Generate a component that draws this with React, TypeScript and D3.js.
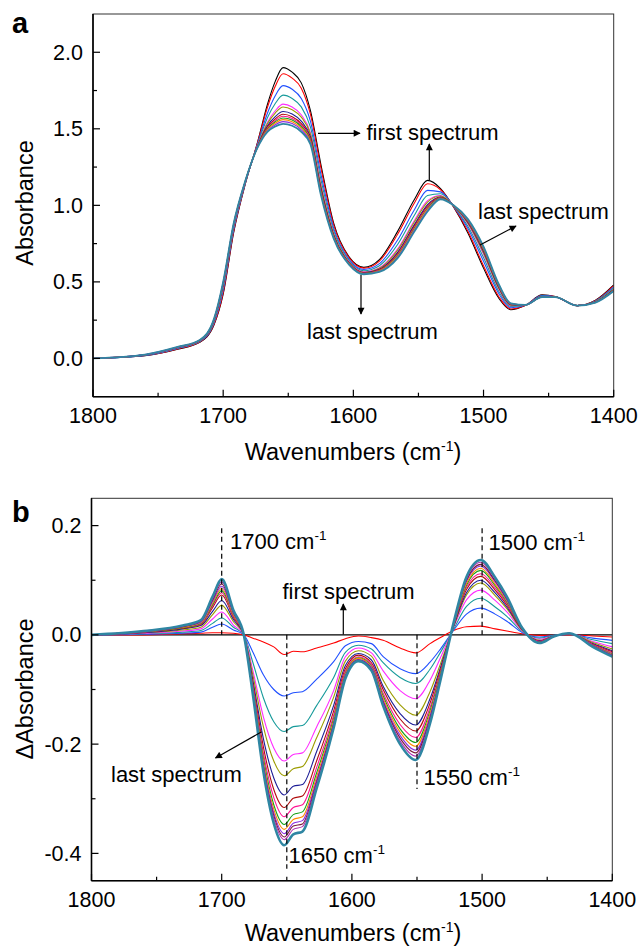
import React, { useEffect } from 'react';
import * as d3 from 'd3';

// ---------- Panel a data (absorbance) ----------
const wavenumbersA = [1800, 1760, 1735, 1718, 1707, 1700, 1692, 1683, 1674, 1666, 1660, 1654, 1647, 1640, 1633, 1625, 1615, 1603, 1592, 1580, 1566, 1553, 1543, 1533, 1523, 1512, 1500, 1488, 1479, 1468, 1455, 1445, 1428, 1414, 1400];

const absA01 = [0.000, 0.018, 0.060, 0.105, 0.220, 0.420, 0.820, 1.140, 1.400, 1.660, 1.810, 1.900, 1.870, 1.800, 1.620, 1.270, 0.880, 0.660, 0.595, 0.645, 0.830, 1.040, 1.163, 1.110, 0.990, 0.820, 0.590, 0.390, 0.318, 0.345, 0.415, 0.405, 0.345, 0.380, 0.480];
const absA02 = [0.000, 0.019, 0.062, 0.107, 0.224, 0.429, 0.827, 1.142, 1.397, 1.640, 1.778, 1.860, 1.831, 1.765, 1.596, 1.248, 0.869, 0.655, 0.590, 0.636, 0.811, 1.017, 1.141, 1.102, 0.991, 0.830, 0.605, 0.400, 0.323, 0.346, 0.413, 0.404, 0.345, 0.378, 0.476];
const absA03 = [0.000, 0.020, 0.065, 0.110, 0.233, 0.446, 0.839, 1.146, 1.390, 1.602, 1.716, 1.782, 1.758, 1.698, 1.550, 1.206, 0.848, 0.644, 0.581, 0.619, 0.774, 0.973, 1.098, 1.088, 0.993, 0.849, 0.635, 0.419, 0.331, 0.347, 0.410, 0.403, 0.345, 0.375, 0.467];
const absA04 = [0.000, 0.021, 0.067, 0.112, 0.240, 0.459, 0.849, 1.150, 1.385, 1.572, 1.665, 1.720, 1.698, 1.643, 1.512, 1.172, 0.831, 0.636, 0.573, 0.606, 0.744, 0.937, 1.064, 1.076, 0.995, 0.864, 0.659, 0.434, 0.339, 0.347, 0.408, 0.403, 0.345, 0.373, 0.460];
const absA05 = [0.000, 0.023, 0.070, 0.115, 0.246, 0.472, 0.859, 1.153, 1.381, 1.543, 1.618, 1.661, 1.642, 1.592, 1.477, 1.140, 0.815, 0.628, 0.566, 0.593, 0.716, 0.903, 1.031, 1.064, 0.997, 0.879, 0.681, 0.449, 0.345, 0.348, 0.405, 0.402, 0.345, 0.370, 0.454];
const absA06 = [0.000, 0.023, 0.071, 0.116, 0.248, 0.476, 0.862, 1.154, 1.379, 1.534, 1.603, 1.642, 1.625, 1.576, 1.466, 1.130, 0.810, 0.625, 0.563, 0.589, 0.707, 0.893, 1.021, 1.061, 0.997, 0.883, 0.688, 0.453, 0.347, 0.349, 0.405, 0.402, 0.345, 0.370, 0.452];
const absA07 = [0.000, 0.023, 0.072, 0.117, 0.251, 0.482, 0.867, 1.156, 1.377, 1.520, 1.580, 1.613, 1.597, 1.550, 1.448, 1.114, 0.802, 0.621, 0.560, 0.583, 0.693, 0.876, 1.005, 1.055, 0.998, 0.890, 0.699, 0.460, 0.351, 0.349, 0.403, 0.401, 0.345, 0.368, 0.449];
const absA08 = [0.000, 0.024, 0.072, 0.117, 0.253, 0.486, 0.870, 1.157, 1.375, 1.511, 1.565, 1.595, 1.579, 1.534, 1.437, 1.104, 0.797, 0.619, 0.558, 0.579, 0.685, 0.866, 0.995, 1.052, 0.998, 0.895, 0.706, 0.465, 0.353, 0.349, 0.403, 0.401, 0.345, 0.368, 0.447];
const absA09 = [0.000, 0.024, 0.073, 0.118, 0.255, 0.489, 0.872, 1.157, 1.374, 1.504, 1.555, 1.582, 1.567, 1.523, 1.430, 1.097, 0.793, 0.617, 0.556, 0.576, 0.679, 0.858, 0.987, 1.049, 0.999, 0.898, 0.711, 0.468, 0.354, 0.349, 0.402, 0.401, 0.345, 0.367, 0.445];
const absA10 = [0.000, 0.024, 0.073, 0.118, 0.256, 0.492, 0.874, 1.158, 1.373, 1.499, 1.546, 1.571, 1.557, 1.514, 1.423, 1.091, 0.790, 0.615, 0.555, 0.573, 0.673, 0.852, 0.981, 1.047, 0.999, 0.901, 0.715, 0.471, 0.356, 0.349, 0.402, 0.401, 0.345, 0.367, 0.444];
const absA11 = [0.000, 0.024, 0.074, 0.119, 0.257, 0.494, 0.876, 1.159, 1.372, 1.494, 1.537, 1.560, 1.546, 1.504, 1.416, 1.085, 0.787, 0.614, 0.553, 0.571, 0.668, 0.846, 0.975, 1.045, 0.999, 0.903, 0.720, 0.473, 0.357, 0.350, 0.401, 0.400, 0.345, 0.366, 0.443];
const absA12 = [0.000, 0.025, 0.074, 0.119, 0.258, 0.497, 0.878, 1.159, 1.371, 1.487, 1.527, 1.547, 1.534, 1.493, 1.409, 1.078, 0.784, 0.612, 0.552, 0.568, 0.662, 0.838, 0.968, 1.043, 1.000, 0.906, 0.724, 0.476, 0.358, 0.350, 0.401, 0.400, 0.345, 0.366, 0.442];
const absA13 = [0.000, 0.025, 0.075, 0.120, 0.260, 0.500, 0.880, 1.160, 1.370, 1.480, 1.515, 1.532, 1.520, 1.480, 1.400, 1.070, 0.780, 0.610, 0.550, 0.565, 0.655, 0.830, 0.960, 1.040, 1.000, 0.910, 0.730, 0.480, 0.360, 0.350, 0.400, 0.400, 0.345, 0.365, 0.440];

// ---------- Panel b data (difference absorbance) ----------
const wavenumbersB = [1800, 1760, 1730, 1716, 1707, 1700, 1691, 1683, 1676, 1668, 1660, 1652, 1645, 1638, 1627, 1614, 1605, 1595, 1585, 1576, 1563, 1551, 1540, 1532, 1522, 1512, 1501, 1490, 1481, 1469, 1456, 1445, 1433, 1415, 1400];

const dAbs01 = [0, 0, 0, 0, 0, 0, 0, 0, 0, 0, 0, 0, 0, 0, 0, 0, 0, 0, 0, 0, 0, 0, 0, 0, 0, 0, 0, 0, 0, 0, 0, 0, 0, 0, 0];
const dAbs02 = [0, 0.000, 0.002, 0.003, 0.004, 0.004, 0.003, 0.000, -0.006, -0.013, -0.022, -0.036, -0.030, -0.031, -0.024, -0.015, -0.007, -0.002, -0.005, -0.010, -0.024, -0.033, -0.016, -0.005, 0.008, 0.015, 0.016, 0.011, 0.007, 0.002, -0.001, -0.001, 0.000, -0.002, -0.004];
const dAbs03 = [0, 0.001, 0.003, 0.005, 0.014, 0.020, 0.009, 0, -0.032, -0.073, -0.100, -0.112, -0.106, -0.104, -0.081, -0.049, -0.020, -0.012, -0.016, -0.040, -0.062, -0.071, -0.050, -0.026, 0.008, 0.038, 0.049, 0.038, 0.025, 0.004, -0.004, -0.001, 0.001, -0.006, -0.010];
const dAbs04 = [0, 0.002, 0.005, 0.008, 0.021, 0.031, 0.014, 0, -0.051, -0.115, -0.159, -0.177, -0.168, -0.166, -0.129, -0.078, -0.032, -0.019, -0.026, -0.051, -0.078, -0.089, -0.063, -0.032, 0.010, 0.052, 0.067, 0.051, 0.034, 0.006, -0.006, -0.001, 0.001, -0.009, -0.016];
const dAbs05 = [0, 0.003, 0.007, 0.011, 0.029, 0.042, 0.018, 0, -0.066, -0.150, -0.207, -0.231, -0.219, -0.216, -0.168, -0.102, -0.040, -0.024, -0.033, -0.066, -0.102, -0.117, -0.083, -0.042, 0.013, 0.064, 0.082, 0.063, 0.042, 0.007, -0.008, -0.002, 0.002, -0.012, -0.022];
const dAbs06 = [0, 0.004, 0.009, 0.014, 0.037, 0.054, 0.024, 0, -0.074, -0.168, -0.231, -0.258, -0.245, -0.241, -0.188, -0.114, -0.048, -0.029, -0.039, -0.083, -0.128, -0.147, -0.104, -0.053, 0.014, 0.073, 0.095, 0.072, 0.048, 0.008, -0.010, -0.002, 0.002, -0.014, -0.026];
const dAbs07 = [0, 0.004, 0.011, 0.017, 0.043, 0.063, 0.028, 0, -0.084, -0.190, -0.262, -0.293, -0.277, -0.274, -0.213, -0.129, -0.056, -0.034, -0.046, -0.094, -0.144, -0.165, -0.117, -0.060, 0.015, 0.077, 0.100, 0.077, 0.051, 0.009, -0.011, -0.002, 0.002, -0.016, -0.029];
const dAbs08 = [0, 0.005, 0.012, 0.019, 0.050, 0.073, 0.032, 0, -0.090, -0.205, -0.283, -0.316, -0.299, -0.295, -0.230, -0.139, -0.062, -0.037, -0.051, -0.100, -0.154, -0.176, -0.125, -0.064, 0.016, 0.083, 0.107, 0.082, 0.055, 0.009, -0.012, -0.002, 0.002, -0.017, -0.031];
const dAbs09 = [0, 0.005, 0.013, 0.020, 0.053, 0.077, 0.034, 0, -0.095, -0.216, -0.298, -0.333, -0.316, -0.311, -0.242, -0.147, -0.066, -0.040, -0.054, -0.107, -0.164, -0.188, -0.133, -0.068, 0.017, 0.087, 0.112, 0.086, 0.057, 0.010, -0.012, -0.002, 0.002, -0.018, -0.033];
const dAbs10 = [0, 0.006, 0.013, 0.021, 0.055, 0.081, 0.036, 0, -0.099, -0.225, -0.311, -0.347, -0.329, -0.324, -0.252, -0.153, -0.070, -0.042, -0.057, -0.112, -0.172, -0.197, -0.139, -0.071, 0.018, 0.091, 0.118, 0.090, 0.060, 0.010, -0.013, -0.003, 0.003, -0.019, -0.035];
const dAbs11 = [0, 0.006, 0.014, 0.022, 0.058, 0.085, 0.037, 0, -0.102, -0.231, -0.319, -0.356, -0.338, -0.333, -0.259, -0.157, -0.072, -0.043, -0.059, -0.116, -0.178, -0.204, -0.144, -0.074, 0.019, 0.094, 0.122, 0.093, 0.062, 0.011, -0.014, -0.003, 0.003, -0.020, -0.036];
const dAbs12 = [0, 0.006, 0.015, 0.023, 0.061, 0.089, 0.039, 0, -0.104, -0.236, -0.326, -0.364, -0.345, -0.340, -0.265, -0.161, -0.074, -0.045, -0.060, -0.120, -0.184, -0.211, -0.149, -0.076, 0.019, 0.098, 0.126, 0.097, 0.064, 0.011, -0.014, -0.003, 0.003, -0.020, -0.037];
const dAbs13 = [0, 0.006, 0.015, 0.025, 0.064, 0.093, 0.041, 0, -0.106, -0.240, -0.331, -0.370, -0.350, -0.346, -0.269, -0.163, -0.076, -0.046, -0.062, -0.123, -0.189, -0.216, -0.153, -0.078, 0.020, 0.100, 0.129, 0.099, 0.066, 0.011, -0.014, -0.003, 0.003, -0.021, -0.038];
const dAbs14 = [0, 0.007, 0.016, 0.026, 0.067, 0.097, 0.043, 0, -0.107, -0.244, -0.336, -0.375, -0.356, -0.351, -0.273, -0.166, -0.078, -0.047, -0.063, -0.126, -0.194, -0.222, -0.157, -0.081, 0.020, 0.103, 0.133, 0.102, 0.068, 0.012, -0.015, -0.003, 0.003, -0.021, -0.039];
const dAbs15 = [0, 0.007, 0.017, 0.027, 0.070, 0.102, 0.045, 0, -0.110, -0.250, -0.345, -0.385, -0.365, -0.360, -0.280, -0.170, -0.080, -0.048, -0.065, -0.130, -0.200, -0.229, -0.162, -0.083, 0.021, 0.106, 0.137, 0.105, 0.070, 0.012, -0.015, -0.003, 0.003, -0.022, -0.040];

const colorsA = ['#000000', '#ff0000', '#2050ff', '#169a9a', '#ff2bff', '#9c9c00', '#1c1c96', '#b00c0c', '#ff1493', '#16a016', '#ff8a00', '#8a2be2', '#2f86a3'];
const colorsB = ['#000000', '#ff0000', '#2050ff', '#169a9a', '#ff2bff', '#9c9c00', '#1c1c96', '#b00c0c', '#ff1493', '#16a016', '#ff8a00', '#8a2be2', '#7a1a3a', '#b030b0', '#2f86a3'];

const seriesA = [absA01, absA02, absA03, absA04, absA05, absA06, absA07, absA08, absA09, absA10, absA11, absA12, absA13];
const seriesB = [dAbs01, dAbs02, dAbs03, dAbs04, dAbs05, dAbs06, dAbs07, dAbs08, dAbs09, dAbs10, dAbs11, dAbs12, dAbs13, dAbs14, dAbs15];

const xTicks = [1800, 1700, 1600, 1500, 1400];
const xMinorTicks = [1750, 1650, 1550, 1450];
const yTicksA = [0, 0.5, 1.0, 1.5, 2.0];
const yMinorA = [0.25, 0.75, 1.25, 1.75];
const yTicksB = [-0.4, -0.2, 0, 0.2];
const yMinorB = [-0.3, -0.1, 0.1];
const markersB = [1700, 1650, 1550, 1500];

const FONT = '"Liberation Sans", Arial, Helvetica, sans-serif';

type PanelProps = {
  left: number; top: number; right: number; bottom: number;
  yDomain: [number, number];
  wn: number[]; series: number[][]; colors: string[];
  yTicks: number[]; yMinor: number[];
  lastWidth: number; id: string;
  children?: (x: d3.ScaleLinear<number, number>, y: d3.ScaleLinear<number, number>) => React.ReactNode;
};

function Panel(p: PanelProps) {
  const x = d3.scaleLinear().domain([1800, 1400]).range([p.left, p.right]);
  const y = d3.scaleLinear().domain(p.yDomain).range([p.bottom, p.top]);
  const n = p.series.length;
  return (
    <g>
      <defs>
        <clipPath id={`clip-${p.id}`}>
          <rect x={p.left} y={p.top} width={p.right - p.left} height={p.bottom - p.top} />
        </clipPath>
      </defs>
      <g clipPath={`url(#clip-${p.id})`}>
        {p.series.map((vals, i) => {
          const pts: [number, number][] = p.wn.map((w, j) => [x(w), y(vals[j])]);
          const path = d3.line().curve(d3.curveMonotoneX)(pts) || '';
          return (
            <path key={i} d={path} fill="none" stroke={p.colors[i]}
              strokeWidth={i === n - 1 ? p.lastWidth : 1.1} strokeLinejoin="round" />
          );
        })}
      </g>
      {p.children && p.children(x, y)}
      {/* frame */}
      <rect x={p.left} y={p.top} width={p.right - p.left} height={p.bottom - p.top}
        fill="none" stroke="#333" strokeWidth={1} />
      <line x1={p.left} x2={p.right} y1={p.bottom} y2={p.bottom} stroke="#000" strokeWidth={1.6} />
      <line x1={p.left} x2={p.left} y1={p.top} y2={p.bottom} stroke="#000" strokeWidth={1.6} />
      {xTicks.map((t) => (
        <g key={t}>
          <line x1={x(t)} x2={x(t)} y1={p.bottom} y2={p.bottom - 7} stroke="#000" strokeWidth={1.2} />
          <text x={x(t)} y={p.bottom + 26.5} textAnchor="middle" fontSize={21.5} fontFamily={FONT}>{t}</text>
        </g>
      ))}
      {xMinorTicks.map((t) => (
        <line key={t} x1={x(t)} x2={x(t)} y1={p.bottom} y2={p.bottom - 4} stroke="#000" strokeWidth={1.2} />
      ))}
      {p.yTicks.map((t) => (
        <g key={t}>
          <line x1={p.left} x2={p.left + 7} y1={y(t)} y2={y(t)} stroke="#000" strokeWidth={1.2} />
          <text x={p.left - 10} y={y(t) + 7.5} textAnchor="end" fontSize={21.5} fontFamily={FONT}>{d3.format('.1f')(t).replace('−', '-')}</text>
        </g>
      ))}
      {p.yMinor.map((t) => (
        <line key={t} x1={p.left} x2={p.left + 4} y1={y(t)} y2={y(t)} stroke="#000" strokeWidth={1.2} />
      ))}
    </g>
  );
}

function AxisTitle({ x, y }: { x: number; y: number }) {
  return (
    <text x={x} y={y} textAnchor="middle" fontSize={23.5} fontFamily={FONT}>
      Wavenumbers (cm<tspan fontSize={14} dy={-9.5}>-1</tspan><tspan dy={9.5}>)</tspan>
    </text>
  );
}

function Wn({ x, y, label }: { x: number; y: number; label: string }) {
  return (
    <text x={x} y={y} fontSize={22} fontFamily={FONT}>
      {label} cm<tspan fontSize={13.5} dy={-9}>-1</tspan>
    </text>
  );
}

export default function App() {
  useEffect(() => {
    document.body.style.margin = '0';
  }, []);
  const txt = { fontSize: 22, fontFamily: FONT } as const;
  return (
    <svg width={641} height={948} viewBox="0 0 641 948"
      style={{ display: 'block', position: 'absolute', left: 0, top: 0, background: '#fff' }}>
      <defs>
        <marker id="arrow" viewBox="0 0 10 10" refX="9" refY="5" markerWidth="9" markerHeight="7"
          markerUnits="userSpaceOnUse" orient="auto">
          <path d="M0,0 L10,5 L0,10 z" fill="#000" />
        </marker>
      </defs>
      <rect x={0} y={0} width={641} height={948} fill="#fff" />

      {/* Panel a */}
      <Panel id="a" left={93} top={14} right={613.7} bottom={396.7} yDomain={[-0.25, 2.25]}
        wn={wavenumbersA} series={seriesA} colors={colorsA} yTicks={yTicksA} yMinor={yMinorA}
        lastWidth={1.8} />
      <text x={12} y={33} fontSize={29} fontWeight="bold" fontFamily={FONT}>a</text>
      <text transform="translate(33,203) rotate(-90)" textAnchor="middle" fontSize={23.5} fontFamily={FONT}>Absorbance</text>
      <AxisTitle x={353} y={460} />
      {/* annotations a */}
      <line x1={318} y1={133.3} x2={360} y2={133.3} stroke="#000" strokeWidth={1.2} markerEnd="url(#arrow)" />
      <text x={366.5} y={140} {...txt}>first spectrum</text>
      <line x1={429.3} y1={180} x2={429.3} y2={144} stroke="#000" strokeWidth={1.2} markerEnd="url(#arrow)" />
      <text x={478} y={219} {...txt}>last spectrum</text>
      <line x1={480} y1={245} x2={516} y2={226} stroke="#000" strokeWidth={1.2} markerEnd="url(#arrow)" />
      <line x1={361} y1={275} x2={361} y2={314} stroke="#000" strokeWidth={1.2} markerEnd="url(#arrow)" />
      <text x={307} y={338.5} {...txt}>last spectrum</text>

      {/* Panel b */}
      <Panel id="b" left={91.5} top={498.3} right={612.3} bottom={880.7} yDomain={[-0.45, 0.25]}
        wn={wavenumbersB} series={seriesB} colors={colorsB} yTicks={yTicksB} yMinor={yMinorB}
        lastWidth={2.6}>
        {(x, y) => (
          <g>
            {markersB.map((m) => {
              const yTop = m === 1700 || m === 1500 ? y(0.195) : y(0);
              const yBot = m === 1700 || m === 1500 ? y(0) : m === 1650 ? y(-0.428) : y(-0.282);
              return <line key={m} x1={x(m)} x2={x(m)} y1={yTop} y2={yBot} stroke="#000"
                strokeWidth={1.2} strokeDasharray="5,3.5" />;
            })}
          </g>
        )}
      </Panel>
      <text x={12} y={521.5} fontSize={29} fontWeight="bold" fontFamily={FONT}>b</text>
      <text transform="translate(33,689) rotate(-90)" textAnchor="middle" fontSize={23.5} fontFamily={FONT}>ΔAbsorbance</text>
      <AxisTitle x={353} y={941} />
      <Wn x={230} y={548.5} label="1700" />
      <Wn x={488.5} y={550} label="1500" />
      <Wn x={288.5} y={862.5} label="1650" />
      <Wn x={423.5} y={785} label="1550" />
      <text x={282.5} y={598.5} {...txt}>first spectrum</text>
      <line x1={343.3} y1={634.5} x2={343.3} y2={604} stroke="#000" strokeWidth={1.2} markerEnd="url(#arrow)" />
      <line x1={261.7} y1={731.7} x2={215.5} y2={758} stroke="#000" strokeWidth={1.2} markerEnd="url(#arrow)" />
      <text x={111} y={781.5} {...txt}>last spectrum</text>
    </svg>
  );
}
